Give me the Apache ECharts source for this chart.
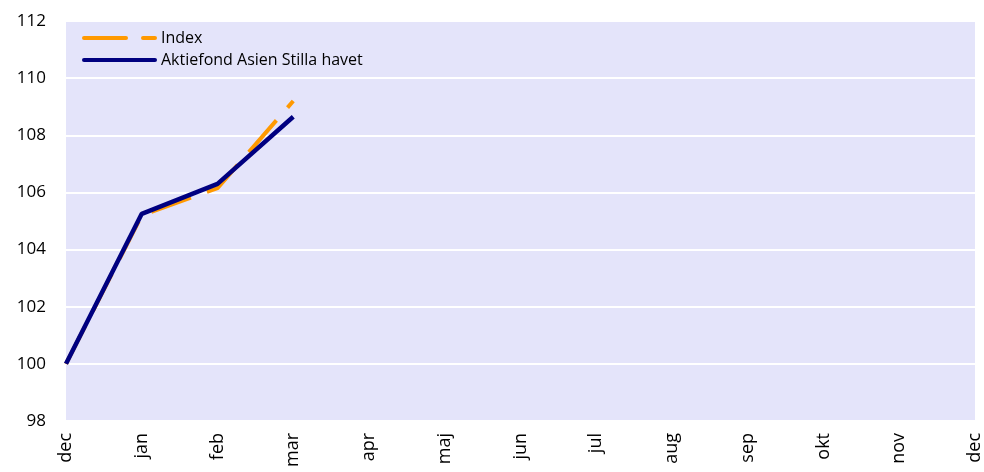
<!DOCTYPE html>
<html>
<head>
<meta charset="utf-8">
<script src="https://cdn.jsdelivr.net/npm/echarts@6/dist/echarts.min.js"></script>
<style>
  html, body { margin: 0; padding: 0; background: #fff; }
  #chart { width: 984px; height: 472px; }
</style>
</head>
<body>
<div id="chart"></div>
<script>
// 月份
const months = ['dec', 'jan', 'feb', 'mar', 'apr', 'maj', 'jun', 'jul', 'aug', 'sep', 'okt', 'nov', 'dec'];
// 指数
const indexValues = [100, 105.2, 106.15, 109.2];
// 基金
const fundValues = [100, 105.25, 106.3, 108.65];

const chart = echarts.init(document.getElementById('chart'));
const font = 'Open Sans, Liberation Sans, sans-serif';

chart.setOption({
  animation: false,
  grid: {
    left: 66, right: 9, top: 21, bottom: 51,
    show: true,
    backgroundColor: '#E4E4FA',
    borderWidth: 0
  },
  legend: {
    orient: 'vertical',
    left: 82, top: 30,
    padding: 0,
    itemWidth: 71, itemHeight: 4,
    itemGap: 6,
    lineStyle: { width: 4, cap: 'round' },
    itemStyle: { opacity: 0 },
    textStyle: { fontFamily: font, fontSize: 16, color: '#000', padding: [0, 0, 0, 1] },
    data: ['Index', 'Aktiefond Asien Stilla havet']
  },
  xAxis: {
    type: 'category',
    data: months,
    boundaryGap: false,
    axisLine: { show: false },
    axisTick: { show: false },
    axisLabel: {
      rotate: 90, fontFamily: font, fontSize: 18, color: '#000', margin: 12,
      interval: 0
    },
    splitLine: { show: false }
  },
  yAxis: {
    type: 'value',
    min: 98, max: 112, interval: 2,
    axisLine: { show: false },
    axisTick: { show: false },
    axisLabel: { fontFamily: font, fontSize: 17, color: '#000', margin: 20 },
    splitLine: { lineStyle: { color: '#fff', width: 2 } }
  },
  series: [{
    name: 'Index',
    type: 'line',
    data: indexValues,
    symbol: 'none',
    color: '#FF9900',
    lineStyle: { color: '#FF9900', width: 4, type: [42, 17] }
  }, {
    name: 'Aktiefond Asien Stilla havet',
    type: 'line',
    data: fundValues,
    symbol: 'none',
    color: '#000080',
    lineStyle: { color: '#000080', width: 4.5 }
  }]
});
</script>
</body>
</html>
